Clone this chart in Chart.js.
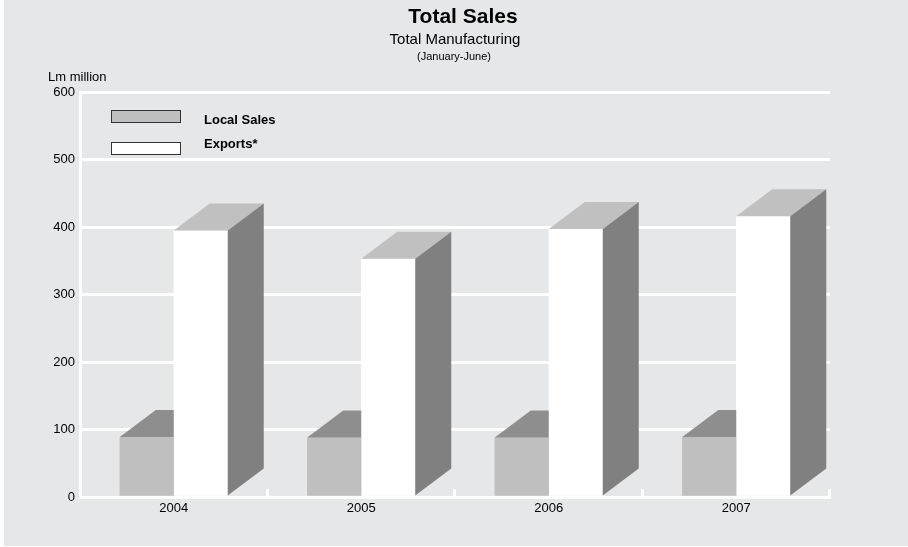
<!DOCTYPE html>
<html>
  <head>
    <title>Total Sales</title>
    <script src="https://cdn.jsdelivr.net/npm/chart.js"></script>
    <style>
      body { margin: 0; background: #fff; }
      #wrap { position: relative; width: 908px; height: 547px; }
    </style>
  </head>
  <body>
    <div id="wrap"><canvas id="myChart"></canvas></div>
    <script>
      var years = ["2004", "2005", "2006", "2007"];
      var localSales = [89, 88, 88, 89];
      var exportsSales = [395, 353, 397, 416];
      var yTicks = [0, 100, 200, 300, 400, 500, 600];

      var panelColor = "#e6e7e9";
      var font = "'Liberation Sans', Arial, sans-serif";

      // depth of the fake 3D boxes, in pixels
      var depthX = 36;
      var depthY = 27;

      // grey panel behind everything
      var panel = {
        id: "panel",
        beforeDraw: function (chart) {
          var c = chart.ctx;
          c.save();
          c.fillStyle = "#ffffff";
          c.fillRect(0, 0, chart.width, chart.height);
          c.fillStyle = panelColor;
          c.fillRect(4, 0, chart.width - 4, chart.height - 1);
          c.restore();
        }
      };

      // redraw each bar with its top and side faces, left dataset first
      // so the next bar's front hides the previous one's side
      var boxes = {
        id: "boxes",
        afterDatasetsDraw: function (chart) {
          var c = chart.ctx;
          c.save();
          chart.data.datasets.forEach(function (ds, i) {
            chart.getDatasetMeta(i).data.forEach(function (bar) {
              bar.draw(c);
              var p = bar.getProps(["x", "y", "width", "base"], true);
              var l = p.x - p.width / 2;
              var r = p.x + p.width / 2;
              c.fillStyle = ds.topColor;
              c.beginPath();
              c.moveTo(l, p.y);
              c.lineTo(r, p.y);
              c.lineTo(r + depthX, p.y - depthY);
              c.lineTo(l + depthX, p.y - depthY);
              c.closePath();
              c.fill();
              c.fillStyle = ds.sideColor;
              c.beginPath();
              c.moveTo(r, p.y);
              c.lineTo(r, p.base);
              c.lineTo(r + depthX, p.base - depthY);
              c.lineTo(r + depthX, p.y - depthY);
              c.closePath();
              c.fill();
            });
          });
          c.restore();
        }
      };

      // titles, unit label, legend and the small ticks on the x axis
      var extras = {
        id: "extras",
        afterDraw: function (chart) {
          var c = chart.ctx;
          var area = chart.chartArea;
          c.save();
          c.fillStyle = "#000";
          c.textAlign = "center";
          c.textBaseline = "middle";
          c.font = "bold 21px " + font;
          c.fillText("Total Sales", 463, 17);
          c.font = "15px " + font;
          c.fillText("Total Manufacturing", 455, 40);
          c.font = "11px " + font;
          c.fillText("(January-June)", 454, 57);

          c.textAlign = "left";
          c.font = "13px " + font;
          c.fillText("Lm million", 48, 77);

          // legend
          var boxTops = [110, 142];
          var textRows = [120, 144];
          chart.data.datasets.forEach(function (ds, i) {
            c.fillStyle = ds.backgroundColor;
            c.fillRect(111, boxTops[i], 70, 12);
            c.strokeStyle = "#333";
            c.lineWidth = 1;
            c.strokeRect(111.5, boxTops[i] + 0.5, 69, 12);
            c.fillStyle = "#000";
            c.font = "bold 13px " + font;
            c.fillText(ds.label, 204, textRows[i]);
          });

          // tick marks between categories, pointing up
          var step = (area.right - area.left) / years.length;
          c.strokeStyle = "#ffffff";
          c.lineWidth = 3;
          for (var i = 1; i <= years.length; i++) {
            var x = Math.round(area.left + i * step) - 0.5;
            c.beginPath();
            c.moveTo(x, area.bottom);
            c.lineTo(x, area.bottom - 8);
            c.stroke();
          }
          c.restore();
        }
      };

      var ctx = document.getElementById("myChart").getContext("2d");

      var myChart = new Chart(ctx, {
        type: "bar",
        data: {
          labels: years,
          datasets: [
            {
              label: "Local Sales",
              data: localSales,
              backgroundColor: "#bfbfbf",
              topColor: "#8e8e8e",
              sideColor: "#767676"
            },
            {
              label: "Exports*",
              data: exportsSales,
              backgroundColor: "#ffffff",
              topColor: "#c0c0c0",
              sideColor: "#808080"
            }
          ]
        },
        options: {
          responsive: true,
          maintainAspectRatio: false,
          animation: false,
          layout: { padding: { top: 92, right: 78, left: 0, bottom: 0 } },
          datasets: {
            bar: { categoryPercentage: 0.576, barPercentage: 1.0, borderWidth: 0 }
          },
          plugins: {
            legend: { display: false },
            tooltip: { enabled: false }
          },
          scales: {
            x: {
              grid: { display: false, drawTicks: false },
              border: { color: "#ffffff", width: 3 },
              ticks: { color: "#000", padding: 4, font: { family: font, size: 13 } },
              afterFit: function (scale) { scale.height = 50; }
            },
            y: {
              min: 0,
              max: 600,
              afterBuildTicks: function (scale) {
                scale.ticks = yTicks.map(function (v) { return { value: v }; });
              },
              grid: { color: "#ffffff", lineWidth: 3, drawTicks: false },
              border: { color: "#ffffff", width: 3 },
              ticks: { color: "#000", padding: 5, font: { family: font, size: 13 } },
              afterFit: function (scale) { scale.width = 80; }
            }
          }
        },
        plugins: [panel, boxes, extras]
      });
    </script>
  </body>
</html>
